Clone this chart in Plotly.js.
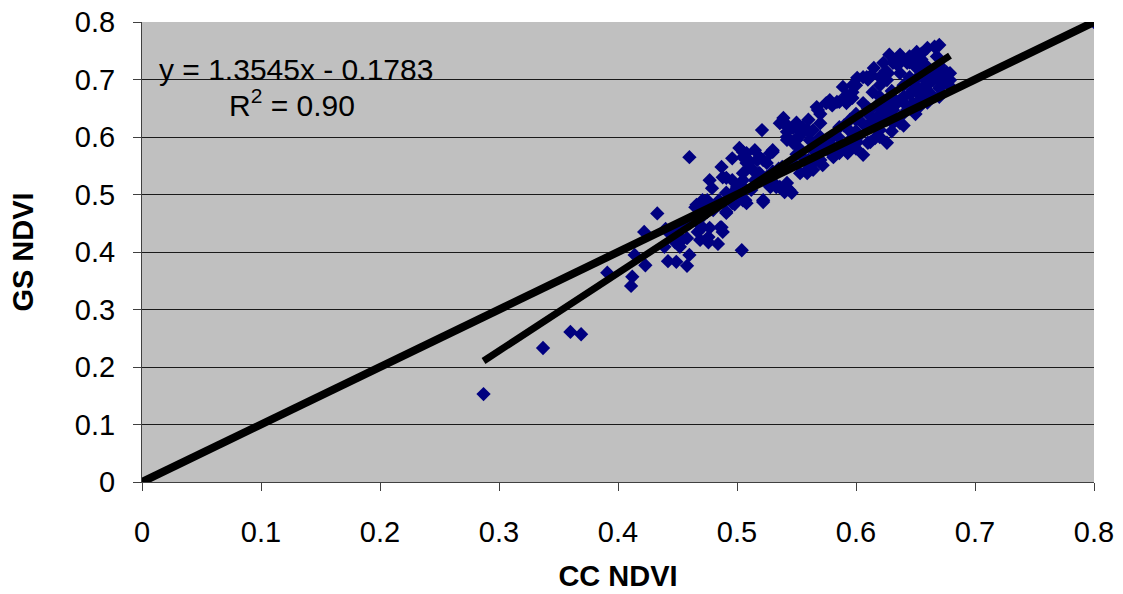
<!DOCTYPE html>
<html><head><meta charset="utf-8">
<script src="https://cdn.plot.ly/plotly-3.0.1.min.js"></script>
<style>html,body{margin:0;padding:0;background:#fff}#chart{width:1123px;height:594px}</style>
</head><body><div id="chart"></div>
<script>
// CC NDVI (x) and GS NDVI (y) observations
const ccNdvi = [
0.287,0.337,0.360,0.369,0.391,0.412,0.411,0.414,0.422,0.423,0.433,
0.442,0.449,0.458,0.460,0.439,0.452,0.448,0.458,0.469,0.476,0.484,0.467,0.477,0.487,0.488,0.491,0.498,0.466,0.473,0.443,0.504,0.454,
0.460,
0.466,0.475,0.480,0.491,0.477,0.479,0.487,0.488,0.496,0.502,0.505,0.496,0.500,0.491,0.508,0.517,0.505,0.512,0.505,0.496,0.522,0.521,0.522,0.530,0.525,0.528,0.536,0.540,0.546,0.538,0.543,0.542,0.547,0.538,
0.536,0.542,0.505,0.511,0.519,0.528,0.513,0.519,0.491,0.505,0.522,0.539,0.530,0.547,0.553,0.550,0.555,0.471,0.465,0.480,0.486,0.471,0.476,0.507,
0.539,0.567,0.575,0.584,0.547,0.555,0.542,0.551,0.561,0.551,0.508,0.515,0.511,0.530,0.525,0.505,0.518,0.530,0.533,0.544,0.508,0.559,0.564,0.572,0.586,0.597,0.586,0.570,0.595,
0.568,0.578,0.586,0.589,0.597,0.601,0.609,0.620,0.627,0.606,0.592,0.542,0.550,0.559,0.564,0.561,0.572,0.581,0.593,0.606,0.612,0.601,0.626,0.620,0.631,0.637,0.643,0.648,0.648,0.623,0.612,0.559,0.564,0.542,
0.628,0.637,0.651,0.660,0.666,0.670,0.623,0.631,0.639,0.648,0.626,0.637,0.645,0.651,0.660,0.676,0.679,0.670,0.665,0.662,0.654,0.645,0.637,0.631,0.626,0.637,0.675,
0.635,0.643,0.606,0.613,0.597,0.592,0.597,0.614,0.620,0.628,0.626,0.618,0.609,0.603,0.595,0.616,0.654,0.660,0.652,0.660,0.679,
0.520,0.550,0.580,0.600,0.620,0.640,0.660,0.630,0.610,0.650,0.670,0.570,0.560,0.530,0.500,0.480,0.470,0.460,0.450,0.440,
0.660,0.670,0.675,0.668,0.655,0.645,0.640,0.650,0.620,0.630,0.660,0.610,0.600,0.590,0.580,0.570,0.655,0.670,
0.600,0.610,0.620,0.630,0.640,0.650,0.660,0.665,0.670,0.675,0.672,0.663,0.655,0.645,0.635,0.625,0.615,0.605,0.595,0.585,0.575,0.565,0.555,0.545,0.535,0.525,0.515,0.505,0.495,0.485,0.475,0.465,0.455,
0.600,0.610,0.615,0.625,0.635,0.645,0.655,0.620,0.590,0.580,0.570,0.560,0.550,
0.620,0.630,0.640,0.650,0.660,0.670,0.678,0.610,0.600,0.590,0.580,0.570,0.560,
0.800
];
const gsNdvi = [
0.153,0.233,0.261,0.257,0.364,0.357,0.341,0.395,0.435,0.377,0.467,
0.384,0.383,0.376,0.395,0.409,0.409,0.417,0.424,0.421,0.417,0.414,0.435,0.442,0.443,0.435,0.468,0.483,0.482,0.487,0.433,0.403,0.421,
0.565,
0.478,0.490,0.473,0.470,0.525,0.511,0.548,0.530,0.563,0.581,0.574,0.525,0.513,0.503,0.555,0.560,0.537,0.508,0.490,0.485,0.487,0.612,0.560,0.577,0.530,0.513,0.513,0.504,0.503,0.626,0.617,0.600,0.590,0.548,
0.624,0.621,0.565,0.557,0.565,0.572,0.543,0.537,0.529,0.513,0.490,0.511,0.522,0.555,0.537,0.595,0.607,0.490,0.478,0.478,0.443,0.443,0.426,0.490,
0.633,0.652,0.659,0.661,0.616,0.617,0.595,0.600,0.609,0.583,0.572,0.577,0.548,0.574,0.555,0.525,0.537,0.534,0.513,0.508,0.485,0.537,0.555,0.551,0.572,0.583,0.617,0.624,0.630,
0.647,0.664,0.661,0.687,0.678,0.703,0.704,0.704,0.711,0.659,0.659,0.609,0.616,0.612,0.612,0.595,0.590,0.565,0.572,0.569,0.591,0.591,0.590,0.612,0.624,0.635,0.647,0.659,0.682,0.642,0.647,0.555,0.543,0.520,
0.743,0.743,0.748,0.755,0.757,0.760,0.729,0.729,0.734,0.734,0.699,0.711,0.704,0.720,0.722,0.713,0.699,0.685,0.699,0.670,0.664,0.652,0.664,0.647,0.630,0.624,0.696,
0.737,0.729,0.704,0.708,0.690,0.673,0.668,0.678,0.670,0.656,0.635,0.630,0.617,0.603,0.595,0.598,0.682,0.694,0.650,0.708,0.711,
0.530,0.570,0.600,0.630,0.660,0.690,0.720,0.680,0.650,0.700,0.720,0.580,0.560,0.540,0.500,0.480,0.460,0.450,0.440,0.440,
0.680,0.700,0.710,0.740,0.745,0.740,0.660,0.680,0.640,0.650,0.690,0.620,0.610,0.620,0.585,0.600,0.705,0.705,
0.640,0.640,0.650,0.670,0.670,0.690,0.700,0.715,0.725,0.705,0.690,0.675,0.670,0.675,0.660,0.645,0.630,0.625,0.610,0.600,0.590,0.575,0.565,0.555,0.545,0.520,0.525,0.510,0.500,0.490,0.470,0.455,0.445,
0.690,0.700,0.720,0.715,0.725,0.730,0.735,0.690,0.665,0.655,0.640,0.630,0.625,
0.600,0.610,0.620,0.640,0.660,0.670,0.690,0.590,0.580,0.580,0.570,0.560,0.545,
0.800
];
// 1:1 reference line
const oneToOneX = [0, 0.8];
const oneToOneY = [0, 0.8];
// Linear trendline coefficients (from the chart label)
const slope = 1.3545;
const intercept = -0.1783;
const rSquared = "0.90";
const axisTicks = [0,0.1,0.2,0.3,0.4,0.5,0.6,0.7,0.8];

const xmin = Math.min(...ccNdvi.slice(0, -1));
const xmax = Math.max(...ccNdvi.slice(0, -1));
const trendX = [xmin, xmax];
const trendY = trendX.map(v => slope * v + intercept);

const font = 'Arial, "Liberation Sans", sans-serif';

const data = [
  {x: ccNdvi, y: gsNdvi, type: 'scatter', mode: 'markers',
   marker: {symbol: 'diamond', size: 11, color: '#000080', line: {width: 0}}, hoverinfo: 'x+y'},
  {x: oneToOneX, y: oneToOneY, type: 'scatter', mode: 'lines',
   line: {color: '#000000', width: 8}},
  {x: trendX, y: trendY, type: 'scatter', mode: 'lines',
   line: {color: '#000000', width: 7}}
];

const layout = {
  width: 1123, height: 594,
  margin: {l: 142, r: 29, t: 22, b: 112},
  paper_bgcolor: '#ffffff', plot_bgcolor: '#C0C0C0',
  showlegend: false,
  font: {family: font, size: 29, color: '#000'},
  xaxis: {
    range: [0, 0.8], tickvals: axisTicks, ticktext: axisTicks.map(String),
    ticks: 'outside', ticklen: 8, tickcolor: '#404040',
    showgrid: false, zeroline: false, showline: true, linecolor: '#404040', linewidth: 1,
    ticklabelstandoff: 16,
    tickfont: {family: font, size: 29, color: '#000'},
    title: {text: '<b>CC NDVI</b>', font: {family: font, size: 29, color: '#000'}, standoff: 18}
  },
  yaxis: {
    range: [0, 0.8], tickvals: axisTicks, ticktext: axisTicks.map(String),
    ticks: 'outside', ticklen: 8, tickcolor: '#404040',
    showgrid: true, gridcolor: '#1a1a1a', gridwidth: 1,
    zeroline: false, showline: true, linecolor: '#404040', linewidth: 1,
    ticklabelstandoff: 12,
    tickfont: {family: font, size: 29, color: '#000'},
    title: {text: '<b>GS NDVI</b>', font: {family: font, size: 29, color: '#000'}, standoff: 32}
  },
  annotations: [
    {x: 0.013, y: 0.717, xref: 'x', yref: 'y', xanchor: 'left', yanchor: 'middle',
     text: 'y = ' + slope + 'x - ' + Math.abs(intercept), showarrow: false,
     font: {family: font, size: 30, color: '#000'}},
    {x: 0.126, y: 0.659, xref: 'x', yref: 'y', xanchor: 'center', yanchor: 'middle',
     text: 'R<sup>2</sup> = ' + rSquared, showarrow: false,
     font: {family: font, size: 30, color: '#000'}}
  ]
};

Plotly.newPlot('chart', data, layout, {displayModeBar: false, staticPlot: true});
</script></body></html>
